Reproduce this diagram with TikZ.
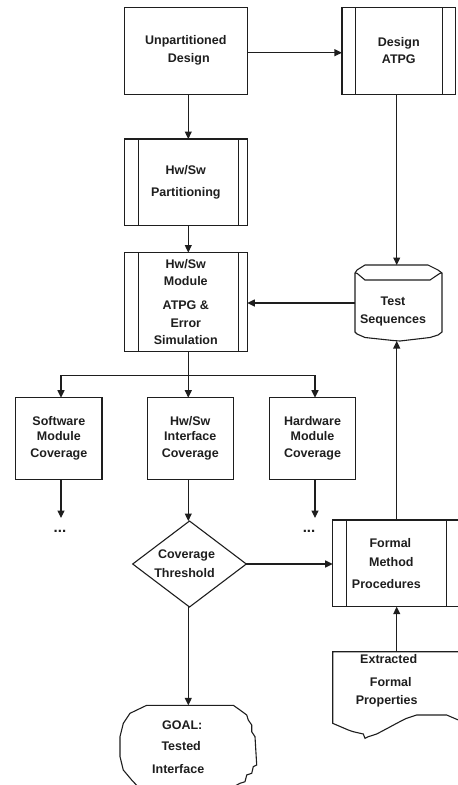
\documentclass[tikz,border=0pt]{standalone}
\usepackage{fontspec}
\setmainfont{Liberation Sans}
\usetikzlibrary{arrows.meta,calc}
\definecolor{ink}{HTML}{1E1E1E}
\begin{document}
\begin{tikzpicture}[x=1pt,y=-1pt, line width=1.1pt, color=ink,
  every node/.style={inner sep=0pt, outer sep=0pt, align=center,
    font=\fontsize{12.5}{17.6}\selectfont\bfseries},
  box/.style={draw, rectangle},
  proc/.style 2 args={draw, rectangle, path picture={
     \draw[line width=1.1pt] ([xshift=#1]path picture bounding box.north west) -- ([xshift=#1]path picture bounding box.south west);
     \draw[line width=1.1pt] ([xshift=-#2]path picture bounding box.north east) -- ([xshift=-#2]path picture bounding box.south east);}},
  dots/.style={font=\fontsize{15}{15}\selectfont\bfseries},
  arr/.style={-{Triangle[length=7.5pt,width=7pt]}}]
\useasboundingbox (0,0) rectangle (458,785);
\clip (0,0) rectangle (458,785);

% helper coordinates
\coordinate (spine) at (188.3,0);
\coordinate (vx) at (396.7,0);
\coordinate (xl) at (61,0);
\coordinate (xr) at (315,0);
\coordinate (ay) at (0,52.7);
\coordinate (br) at (188.3,375.7);
\coordinate (el) at (61,518);
\coordinate (er) at (315,518);

% boxes
\node[box, minimum width=123pt, minimum height=86.7pt] (ud) at (185.8,50.7) {Unpartitioned\\[0.4pt]\hspace*{6pt}Design};
\node[proc={13.5pt}{13.5pt}, minimum width=113.7pt, minimum height=86.7pt] (atpg) at (398.8,50.7) {Design\\ATPG};
\node[proc={14pt}{9pt}, minimum width=123pt, minimum height=86.7pt] (part) at (185.8,182.35) {Hw/Sw\\[4pt]Partitioning};
\node[proc={14pt}{9pt}, minimum width=123pt, minimum height=99.2pt] (mod) at (185.8,302.1) {Hw/Sw\\Module\\[5.8pt]ATPG \&\\[0.4pt]Error\\Simulation};

% Test Sequences (stored data)
\node[minimum width=87pt, minimum height=76pt] (ts) at (398.5,303) {};
\draw (355,273) -- (357,270) -- (365,265) -- (428,265) -- (438,270) -- (442,273)
      -- (442,332) -- (438,335) -- (430,337.5) -- (400,341) -- (393,340.5)
      -- (365,337.5) -- (357,334) -- (355,332) -- cycle;
\draw (355,273) -- (357,273.3) -- (365,280) -- (430,280) -- (440,273.3) -- (442,273);
\node (tst) at (393,311.5) {Test\\[0.8pt]Sequences};

% coverage boxes
\node[box, minimum width=86.3pt, minimum height=81.6pt] (sw) at (58.85,438.5) {Software\\[-3.3pt]Module\\Coverage};
\node[box, minimum width=86pt, minimum height=81.6pt] (hs) at (190.3,438.5) {Hw/Sw\\[-3.3pt]Interface\\Coverage};
\node[box, minimum width=86.4pt, minimum height=81.6pt] (hw) at (312.5,438.5) {Hardware\\[-3.3pt]Module\\Coverage};

\node[dots] (dl) at (60,531.7) {...};
\node[dots] (dr) at (309,531.7) {...};

% decision
\node[minimum width=113.6pt, minimum height=86pt] (thr) at (189.5,564) {\hspace*{-6pt}Coverage\\[1.4pt]\hspace*{-10pt}Threshold};
\draw (thr.north) -- (thr.east) -- (thr.south) -- (thr.west) -- cycle;

% formal method
\node[proc={13.7pt}{13.3pt}, minimum width=127.3pt, minimum height=86.7pt] (fm) at (396.35,563.35) {\hspace*{-12pt}Formal\\[1.4pt]\hspace*{-10pt}Method\\[4pt]\hspace*{-20pt}Procedures};

% extracted formal properties (document)
\node[minimum width=128pt, minimum height=58.6pt] (efp) at (396.7,681) {\hspace*{-16pt}Extracted\\[5.4pt]\hspace*{-12pt}Formal\\[0.4pt]\hspace*{-20pt}Properties};
\draw (332.7,651.7) -- (332.7,723.3) -- (348.3,730) -- (353.3,731.7) -- (363.3,734) -- (365,738.3)
      -- (368.3,736.7) -- (376.7,734) -- (388,728) -- (396.7,723.3) -- (406,718.5) -- (416.7,715)
      -- (446.7,715) -- (470,725) -- (470,651.7) -- cycle;

% goal
\node[minimum width=137pt, minimum height=83.4pt] (goal) at (188.2,747) {\hspace*{-12pt}GOAL:\\[4pt]\hspace*{-14pt}Tested\\[5pt]\hspace*{-20pt}Interface};
\draw (146.7,705.3) -- (233.3,705.3) -- (240,710) -- (246.7,715) -- (248.3,720) -- (251.7,725)
      -- (251.7,731.7) -- (255,736.7) -- (256.7,765) -- (253.3,766.7) -- (251.7,773.3)
      -- (246.7,775) -- (245,781.7) -- (240,783.3) -- (233,787) -- (138.3,787)
      -- (131.7,780) -- (123.3,770) -- (120,756.7) -- (120,736.7) -- (123.3,723.3)
      -- (130,713.3) -- cycle;

% connectors
\draw[arr] (ud.east |- ay) -- (atpg.west |- ay);
\draw[arr] (ud.south -| spine) -- (part.north -| spine);
\draw[arr] (part.south -| spine) -- (mod.north -| spine);
\draw[arr] (atpg.south -| vx) -- (ts.north -| vx);
\draw[arr] (ts.west) -- (mod.east |- ts.west);
\draw (mod.south -| spine) -- (br);
\draw[arr] (br) -- (hs.north -| spine);
\draw[arr] (br) -| (sw.north -| xl);
\draw[arr] (br) -| (hw.north -| xr);
\draw[arr] (sw.south -| xl) -- (el);
\draw[arr] (hw.south -| xr) -- (er);
\draw[arr] (hs.south -| spine) -- (thr.north -| spine);
\draw[arr] (thr.east) -- (fm.west |- thr.east);
\draw[arr] (thr.south -| spine) -- (goal.north -| spine);
\draw[arr] (fm.north -| vx) -- (ts.south -| vx);
\draw[arr] (efp.north) -- (fm.south -| efp.north);
\end{tikzpicture}
\end{document}
